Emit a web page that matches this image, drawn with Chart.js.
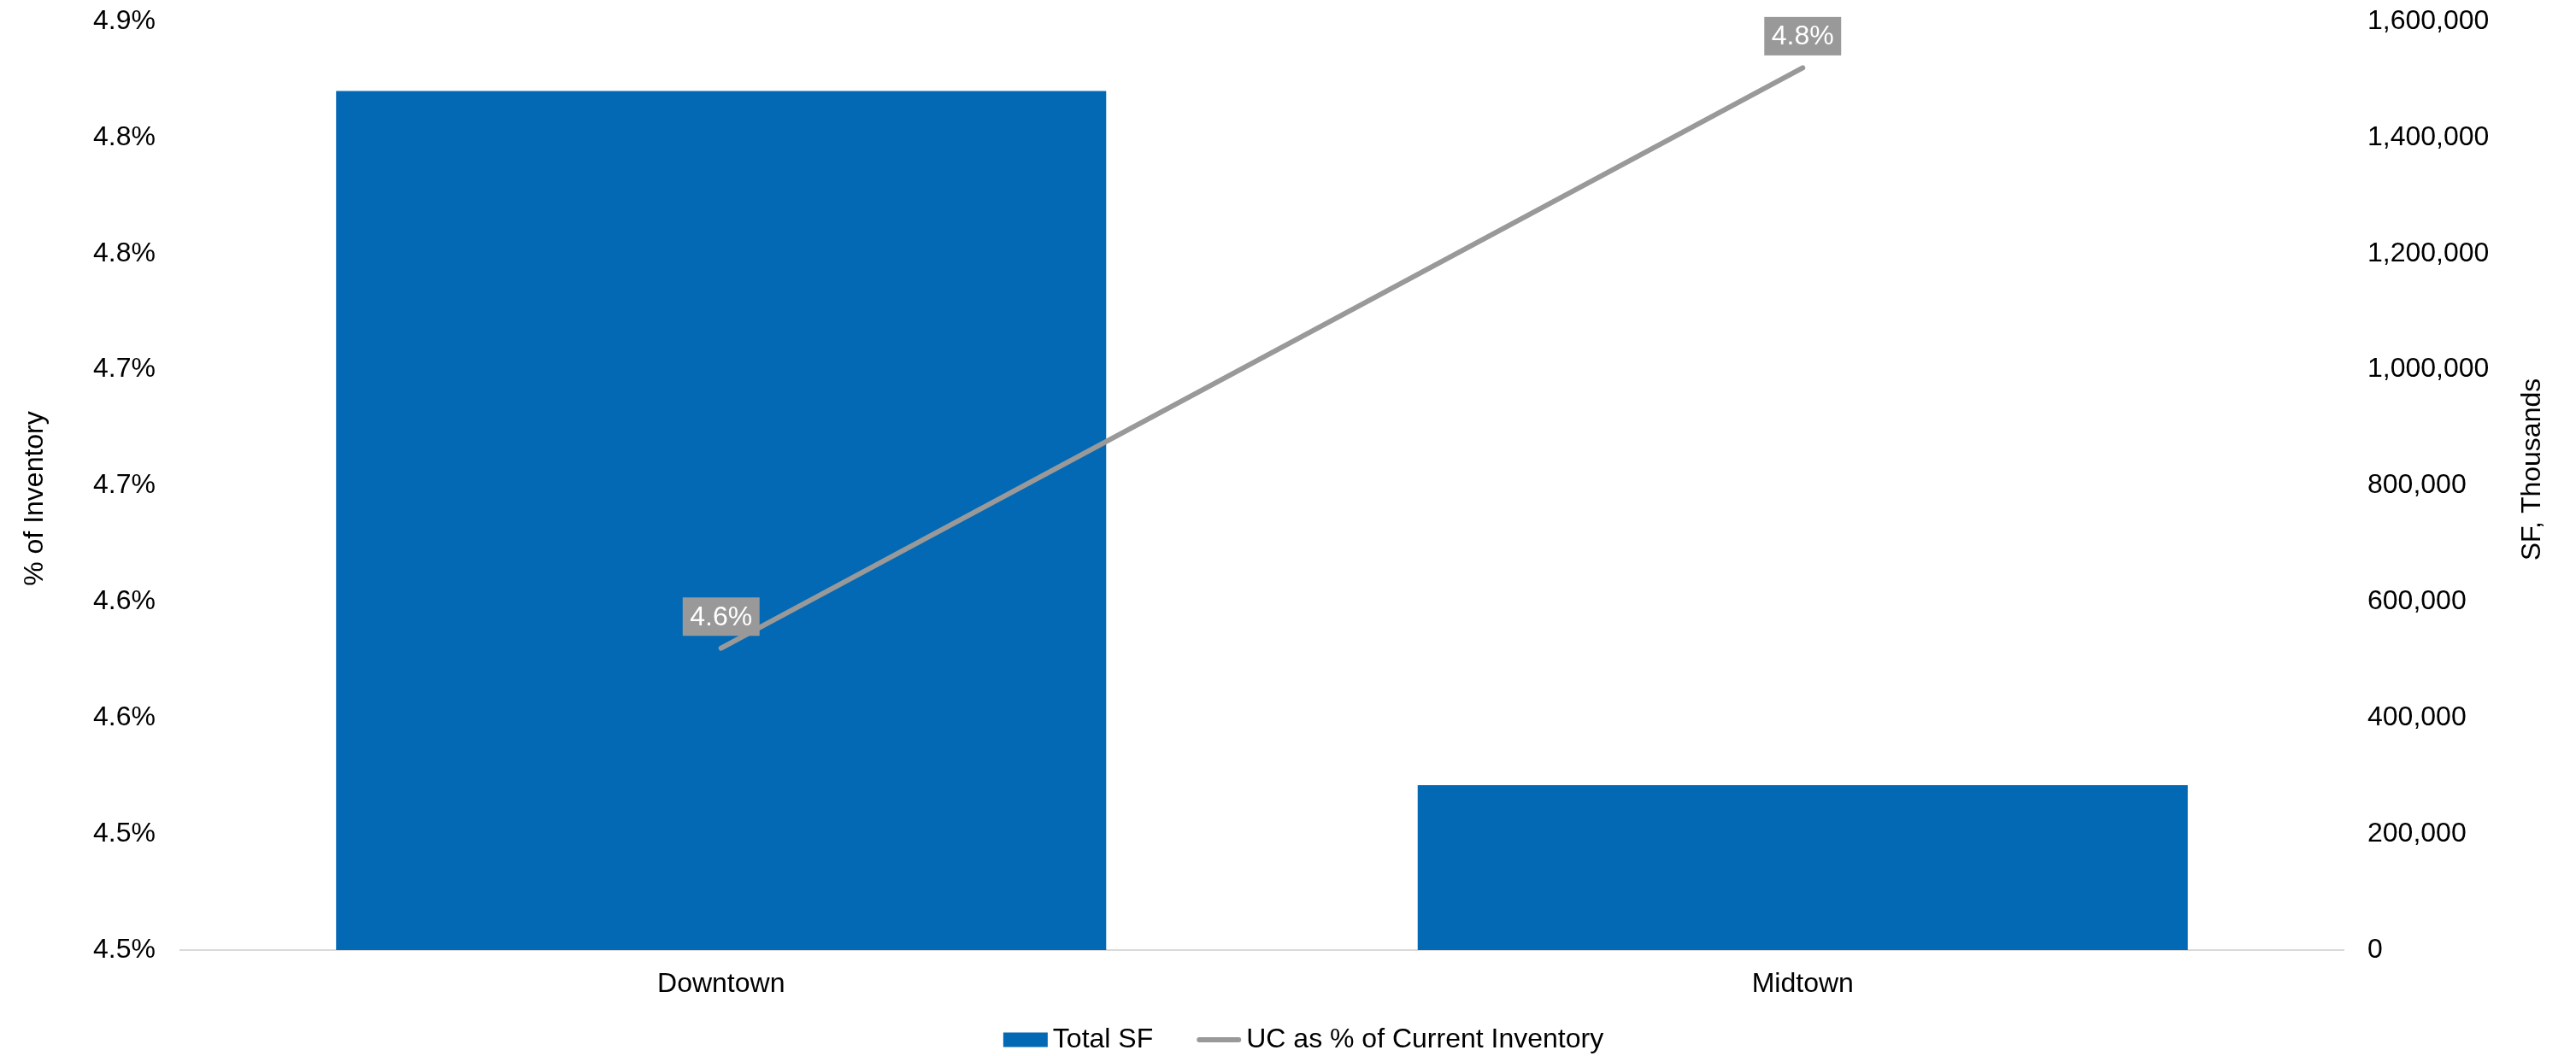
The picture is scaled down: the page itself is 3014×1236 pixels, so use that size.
<!DOCTYPE html>
<html lang="en">
<head>
<meta charset="utf-8">
<title>Total SF vs UC as % of Current Inventory</title>
<script src="https://cdn.jsdelivr.net/npm/chart.js@4.4.1/dist/chart.umd.min.js"></script>
<style>
  html, body { margin: 0; padding: 0; background: #ffffff; }
  #contenedor { position: relative; width: 3014px; height: 1236px; }
</style>
</head>
<body>
<div id="contenedor"><canvas id="chartInventario"></canvas></div>
<script>
// Datos por submercado
const categorias = ['Downtown', 'Midtown'];
const totalSF = [1480000, 284000];          // barras (eje derecho)
const ucPorcentaje = [4.58, 4.83];          // línea (eje izquierdo, %)
const etiquetasSerie = ['Total SF', 'UC as % of Current Inventory'];

// Etiquetas de los ejes (de abajo hacia arriba)
const ticksPorcentaje = ['4.5%', '4.5%', '4.6%', '4.6%', '4.7%', '4.7%', '4.8%', '4.8%', '4.9%'];
const ticksSF = ['0', '200,000', '400,000', '600,000', '800,000', '1,000,000', '1,200,000', '1,400,000', '1,600,000'];
const tituloIzq = '% of Inventory';
const tituloDer = 'SF, Thousands';

const AZUL = '#0369b4';
const GRIS = '#999999';
const FUENTE = '"Liberation Sans", Arial, sans-serif';

Chart.defaults.font.family = FUENTE;
Chart.defaults.font.size = 32;
Chart.defaults.color = '#000000';

// Cajas grises con el valor encima de cada punto de la línea
const pluginEtiquetas = {
  id: 'etiquetasLinea',
  afterDatasetsDraw(chart) {
    const ctx = chart.ctx;
    const meta = chart.getDatasetMeta(1);
    const valores = chart.data.datasets[1].data;
    ctx.save();
    ctx.font = '32px ' + FUENTE;
    ctx.textAlign = 'center';
    ctx.textBaseline = 'middle';
    meta.data.forEach((punto, i) => {
      const texto = valores[i].toFixed(1) + '%';
      const ancho = ctx.measureText(texto).width + 17;
      const alto = 45;
      const cy = punto.y - 37;
      ctx.fillStyle = GRIS;
      ctx.fillRect(punto.x - ancho / 2, cy - alto / 2, ancho, alto);
      ctx.fillStyle = '#ffffff';
      ctx.fillText(texto, punto.x, cy + 1);
    });
    ctx.restore();
  }
};

// Títulos de los ejes, ambos girados leyendo de abajo hacia arriba
const pluginTitulos = {
  id: 'titulosEjes',
  afterDraw(chart) {
    const ctx = chart.ctx;
    const area = chart.chartArea;
    const medio = (area.top + area.bottom) / 2;
    const dibujar = (texto, x, y) => {
      ctx.save();
      ctx.translate(x, y);
      ctx.rotate(-Math.PI / 2);
      ctx.font = '32px ' + FUENTE;
      ctx.fillStyle = '#000000';
      ctx.textAlign = 'center';
      ctx.textBaseline = 'middle';
      ctx.fillText(texto, 0, 0);
      ctx.restore();
    };
    dibujar(tituloIzq, 41, medio + 15);
    dibujar(tituloDer, chart.width - 51, medio - 19);
  }
};

// Leyenda inferior: rectángulo azul para las barras, trazo gris para la línea
const pluginLeyenda = {
  id: 'leyendaInferior',
  afterDraw(chart) {
    const ctx = chart.ctx;
    const [dsBarra, dsLinea] = chart.data.datasets;
    const muestra = 52, hueco = 6, separacion = 51;
    const y = chart.height - 19;
    ctx.save();
    ctx.font = '32px ' + FUENTE;
    ctx.textBaseline = 'middle';
    ctx.textAlign = 'left';
    const w1 = ctx.measureText(dsBarra.label).width;
    const w2 = ctx.measureText(dsLinea.label).width;
    const total = muestra + hueco + w1 + separacion + muestra + hueco + w2;
    let x = chart.width / 2 + 18 - total / 2;

    ctx.fillStyle = dsBarra.backgroundColor;
    ctx.fillRect(x, y - 8.5, muestra, 17);
    x += muestra + hueco;
    ctx.fillStyle = '#000000';
    ctx.fillText(dsBarra.label, x, y);
    x += w1 + separacion;

    ctx.strokeStyle = dsLinea.borderColor;
    ctx.lineWidth = dsLinea.borderWidth;
    ctx.lineCap = 'round';
    ctx.beginPath();
    ctx.moveTo(x + 3, y);
    ctx.lineTo(x + muestra - 3, y);
    ctx.stroke();
    x += muestra + hueco;
    ctx.fillText(dsLinea.label, x, y);
    ctx.restore();
  }
};

// Ancho fijo del eje vertical y sin relleno extra arriba/abajo
const fijarEjeVertical = (ancho) => (scale) => {
  scale.width = ancho;
  scale.paddingTop = 0;
  scale.paddingBottom = 0;
};

const canvas = document.getElementById('chartInventario');
const chartInventario = new Chart(canvas, {
  data: {
    labels: categorias,
    datasets: [{
      type: 'bar',
      label: etiquetasSerie[0],
      data: totalSF,
      yAxisID: 'ySF',
      backgroundColor: AZUL,
      borderWidth: 0,
      categoryPercentage: 1,
      barPercentage: 0.712,
      order: 1
    }, {
      type: 'line',
      label: etiquetasSerie[1],
      data: ucPorcentaje,
      yAxisID: 'yPct',
      borderColor: GRIS,
      backgroundColor: GRIS,
      borderWidth: 6,
      borderCapStyle: 'round',
      pointRadius: 0,
      tension: 0,
      order: 0
    }]
  },
  options: {
    responsive: true,
    maintainAspectRatio: false,
    devicePixelRatio: 1,
    animation: false,
    layout: { padding: { top: 25, bottom: 40, left: 0, right: 0 } },
    plugins: {
      legend: { display: false },
      tooltip: { enabled: false }
    },
    scales: {
      x: {
        type: 'category',
        grid: { display: false, drawTicks: false },
        border: { display: true, color: '#d9d9d9', width: 2 },
        ticks: { padding: 21, maxRotation: 0, autoSkip: false },
        afterFit: (scale) => { scale.height = 84; }
      },
      yPct: {
        type: 'linear',
        position: 'left',
        min: 4.45,
        max: 4.85,
        grid: { display: false, drawTicks: false },
        border: { display: false },
        ticks: {
          stepSize: 0.05,
          padding: 29,
          callback: (valor, i) => ticksPorcentaje[i]
        },
        afterFit: fijarEjeVertical(211)
      },
      ySF: {
        type: 'linear',
        position: 'right',
        min: 0,
        max: 1600000,
        grid: { display: false, drawTicks: false },
        border: { display: false },
        ticks: {
          stepSize: 200000,
          padding: 28,
          callback: (valor, i) => ticksSF[i]
        },
        afterFit: fijarEjeVertical(272)
      }
    }
  },
  plugins: [pluginEtiquetas, pluginTitulos, pluginLeyenda]
});
</script>
</body>
</html>
